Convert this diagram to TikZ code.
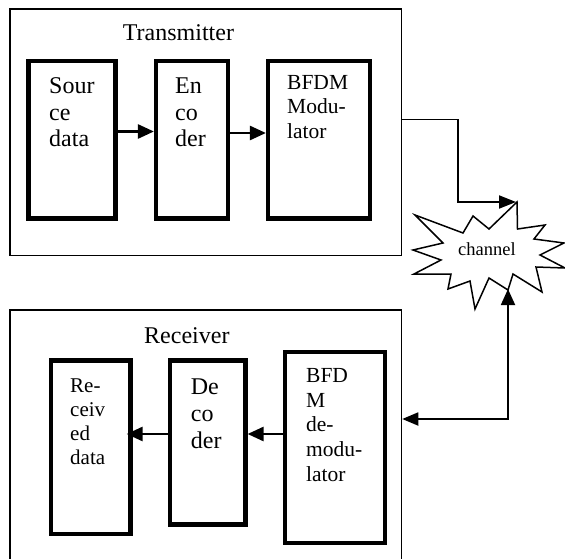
\documentclass[tikz,border=0pt]{standalone}
\usepackage{fontspec}
\setmainfont{Liberation Serif}
\usetikzlibrary{arrows.meta}
\begin{document}
\begin{tikzpicture}[x=1pt,y=-1pt,
  outer/.style={draw,line width=1.5pt,inner sep=0pt,rectangle},
  block/.style={draw,line width=4.2pt,inner sep=0pt,rectangle},
  big/.style={font=\fontsize{24}{27}\selectfont,align=left,inner sep=0pt,anchor=base west},
  small/.style={font=\fontsize{21.5}{24.6}\selectfont,align=left,inner sep=0pt,anchor=base west},
  flow/.style={line width=2.6pt,-{Triangle[length=16pt,width=14pt]}},
  link/.style={line width=1.8pt},
  ]
\useasboundingbox (0,0) rectangle (565,559);

% transmitter side (text nodes are placed at the baseline of their last line)
\node[outer,minimum width=391.5pt,minimum height=246.7pt] (tx) at (205.75,132.15) {};
\node[font=\fontsize{24}{27}\selectfont,inner sep=0pt,anchor=base west] (txl) at (122.7,41) {Transmitter};
\node[block,minimum width=87pt,minimum height=157.5pt] (src) at (72,139.75) {};
\node[block,minimum width=71.7pt,minimum height=157.5pt] (enc) at (191.85,139.75) {};
\node[block,minimum width=102pt,minimum height=157.5pt] (mod) at (319,139.75) {};
\node[big] (srct) at (49,147) {Sour\\ce\\data};
\node[big] (enct) at (175,147) {En\\co\\der};
\node[small] (modt) at (287,138.5) {BFDM\\Modu-\\lator};

% receiver side
\node[outer,minimum width=391.5pt,minimum height=255pt] (rx) at (205.75,437.5) {};
\node[font=\fontsize{24}{27}\selectfont,inner sep=0pt,anchor=base west] (rxl) at (144,343.3) {Receiver};
\node[block,minimum width=79.5pt,minimum height=173.5pt] (rdat) at (90.75,447.25) {};
\node[block,minimum width=75.5pt,minimum height=164pt] (dec) at (207.75,442.5) {};
\node[block,minimum width=99.4pt,minimum height=191pt] (dem) at (335,447.5) {};
\node[font=\fontsize{21}{24}\selectfont,align=left,inner sep=0pt,anchor=base west] (rdatt) at (70,464.7) {Re-\\ceiv\\ed\\data};
\node[big] (dect) at (190.7,448) {De\\co\\der};
\node[small] (demt) at (306,481.1) {BFD\\M\\de-\\modu-\\lator};

% channel burst
\draw[line width=1.5pt,line join=miter]
  (517,202) -- (517.5,229) -- (545,225) -- (534,239) -- (564,243) -- (540,255)
  -- (565,268) -- (536,267) -- (542,292) -- (513,274) -- (508,290) -- (489,278)
  -- (475,309) -- (470,281) -- (448,289) -- (451,274) -- (414,274) -- (441,260)
  -- (413,250) -- (443,243) -- (415,215) -- (463,233) -- (473,216) -- (489,229) -- cycle;
\node[font=\fontsize{18.5}{22}\selectfont,inner sep=0pt,anchor=base] (ch) at (487,255) {channel};
\coordinate (chTop) at (516,202);
\coordinate (chBot) at (508,289);

% levels of the connectors
\coordinate (lvA) at (0,131.5);
\coordinate (lvB) at (0,133);
\coordinate (lvC) at (0,434);
\coordinate (lvOut) at (0,119.5);
\coordinate (lvIn) at (0,419);

% signal flow inside the blocks
\draw[flow] (src.east |- lvA) -- (enc.west |- lvA);
\draw[flow] (enc.east |- lvB) -- (mod.west |- lvB);
\draw[flow] (dem.west |- lvC) -- (dec.east |- lvC);
\draw[flow,shorten >=-6pt] (dec.west |- lvC) -- (rdat.east |- lvC);

% links through the channel
\draw[link,-{Triangle[length=17pt,width=13pt]}] (tx.east |- lvOut) -- (458,119.5) -- (458,202) -- (chTop);
\draw[link,{Triangle[length=16pt,width=14pt]}-{Triangle[length=16pt,width=13pt]}]
  (chBot) -- (508,419) -- (rx.east |- lvIn);
\end{tikzpicture}
\end{document}
